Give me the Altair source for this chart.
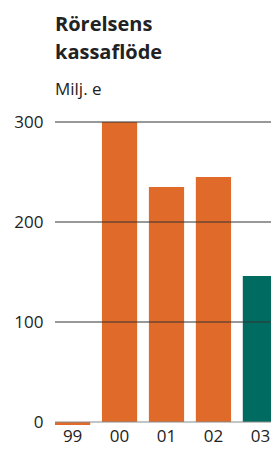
import altair as alt
import pandas as pd

years = ["99", "00", "01", "02", "03"]
values = [-3, 300, 235, 245, 146]
colors = ["#E06A2A", "#E06A2A", "#E06A2A", "#E06A2A", "#006B60"]
grid_values = [100, 200, 300]
zero_value = [0]

bars_df = pd.DataFrame({"year": years, "value": values, "color": colors})
grid_df = pd.DataFrame({"v": grid_values})
zero_df = pd.DataFrame({"v": zero_value})

FONT = "Open Sans"

x = alt.X("year:N", sort=years, title=None,
          scale=alt.Scale(paddingInner=0.25, paddingOuter=0, range=[0, 223]),
          axis=alt.Axis(domain=False, ticks=False, labelAngle=0, labelFontSize=17,
                        labelColor="#222", labelPadding=3, labelFont=FONT))
y_scale = alt.Scale(domain=[-3, 300], nice=False, zero=False)

bars = alt.Chart(bars_df).mark_bar().encode(
    x=x,
    y=alt.Y("value:Q", scale=y_scale, title=None,
            axis=alt.Axis(values=[0, 100, 200, 300], grid=False, domain=False, ticks=False,
                          labelFontSize=17, labelColor="#222", labelPadding=12, labelFont=FONT)),
    color=alt.Color("color:N", scale=None),
)

zero = alt.Chart(zero_df).mark_rule(color="#8a8a8a", strokeWidth=1).encode(
    y=alt.Y("v:Q", scale=y_scale))
grid = alt.Chart(grid_df).mark_rule(color="#333333", strokeWidth=1).encode(
    y=alt.Y("v:Q", scale=y_scale))

chart = alt.layer(bars, zero, grid).properties(
    width=216, height=303,
    autosize=alt.AutoSizeParams(type="none"),
    padding={"left": 47, "top": 114, "right": 0, "bottom": 21},
    title=alt.TitleParams(
        text=["Rörelsens", "kassaflöde"], subtitle="Milj. e",
        anchor="start", frame="group", font=FONT, fontSize=20, fontWeight="bold",
        lineHeight=28, color="#222", subtitleFont=FONT, subtitleFontSize=17,
        subtitleColor="#222", subtitleFontWeight="normal", subtitlePadding=19, offset=15,
    ),
).configure_view(stroke=None)

chart.save("out.html", embed_options={"renderer": "svg", "actions": False})
